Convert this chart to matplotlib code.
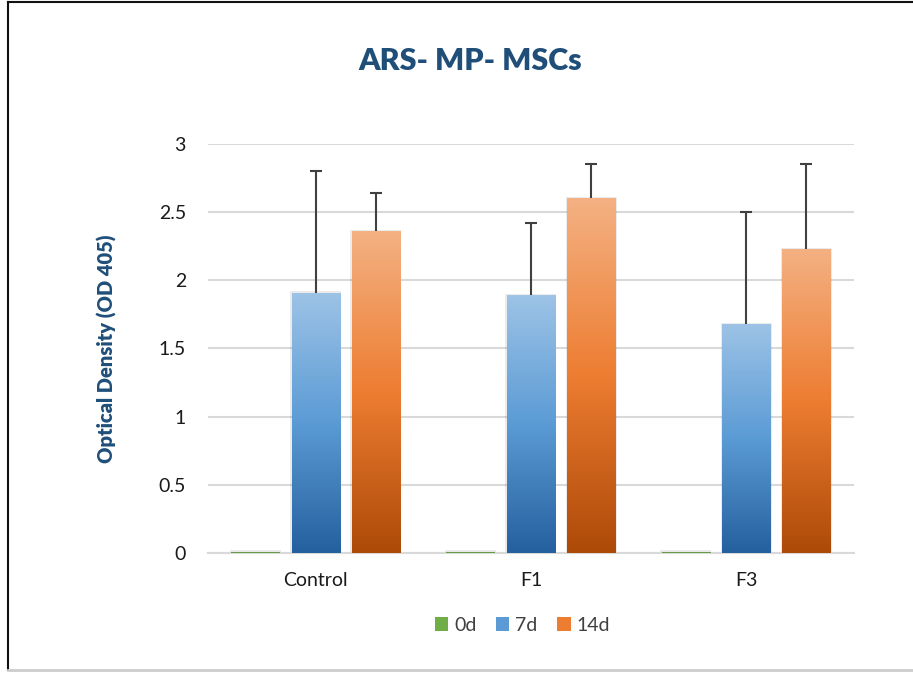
import numpy as np
import matplotlib.pyplot as plt
from matplotlib.colors import LinearSegmentedColormap
from matplotlib.patches import Rectangle, Patch
from matplotlib.lines import Line2D

groups = ["Control", "F1", "F3"]
series = ["0d", "7d", "14d"]
vals_0d = [0.01, 0.01, 0.01]
vals_7d = [1.91, 1.89, 1.68]
vals_14d = [2.36, 2.60, 2.23]
err_7d = [0.89, 0.53, 0.82]
err_14d = [0.28, 0.25, 0.62]

plt.rcParams['font.family'] = ['Lato', 'DejaVu Sans']

fig = plt.figure(figsize=(9.13, 6.74), dpi=100)
ax = fig.add_axes([0.228, 0.1795, 0.707, 0.607])

cmaps = {
    "0d": LinearSegmentedColormap.from_list("g", ["#4f8a2c", "#a9d18e"]),
    "7d": LinearSegmentedColormap.from_list("b", ["#25609e", "#5b9bd5", "#9dc3e6"]),
    "14d": LinearSegmentedColormap.from_list("o", ["#ad4a08", "#ed7d31", "#f4b183"]),
}
solid = {"0d": "#70ad47", "7d": "#5b9bd5", "14d": "#ed7d31"}

x = np.arange(len(groups))
width = 0.225
offsets = [-0.28, 0.0, 0.28]
data = [vals_0d, vals_7d, vals_14d]
errs = [None, err_7d, err_14d]

grad = np.linspace(0, 1, 256).reshape(-1, 1)
for s, off, vals, err in zip(series, offsets, data, errs):
    bars = ax.bar(x + off, vals, width, color="none", edgecolor="none", zorder=3)
    for b in bars:
        bx, by = b.get_x(), b.get_y()
        bw, bh = b.get_width(), b.get_height()
        # soft shadow
        ax.add_patch(Rectangle((bx - 0.006, by), bw + 0.012, bh + 0.01,
                               color="#000000", alpha=0.08, lw=0, zorder=2.5))
        im = ax.imshow(grad, extent=[bx, bx + bw, by, by + bh], origin="lower",
                       cmap=cmaps[s], aspect="auto", zorder=3)
        im.set_clip_path(b)
    if err is not None:
        xs = x + off
        tops = np.array(vals) + np.array(err)
        ax.vlines(xs, vals, tops, color="#404040", linewidth=1.5, zorder=4)
        ax.plot(xs, tops, linestyle="none", marker="_", markersize=9,
                markeredgewidth=1.5, color="#404040", zorder=4)

ax.set_xlim(-0.5, 2.5)
ax.set_ylim(0, 3)
ax.set_yticks([0, 0.5, 1, 1.5, 2, 2.5, 3])
ax.set_yticklabels(["0", "0.5", "1", "1.5", "2", "2.5", "3"])
ax.set_xticks(x)
ax.set_xticklabels(groups)
ax.tick_params(length=0, labelsize=14, colors="#1a1a1a")
ax.tick_params(axis="y", pad=16)
ax.tick_params(axis="x", pad=14)
ax.grid(axis="y", color="#d9d9d9", linewidth=1.5, zorder=0)
ax.set_axisbelow(True)
for sp in ["top", "right", "left"]:
    ax.spines[sp].set_visible(False)
ax.spines["bottom"].set_color("#d9d9d9")
ax.spines["bottom"].set_linewidth(1.5)

ax.set_ylabel("Optical Density (OD 405)", fontsize=14.5, fontweight="heavy",
              color="#1f4e79", labelpad=30)
fig.text(0.515, 0.91, "ARS- MP- MSCs", ha="center", va="center",
         fontsize=22, fontweight="heavy", color="#1f4e79")

handles = [Patch(facecolor=solid[s], label=s) for s in series]
fig.legend(handles=handles, loc="center", bbox_to_anchor=(0.572, 0.072), ncol=3,
           frameon=False, fontsize=14, handlelength=0.7, handleheight=0.7,
           handletextpad=0.3, columnspacing=1.0, labelcolor="#404040")

# outer frame
fig.add_artist(Line2D([0.009, 0.009], [0.006, 0.997], transform=fig.transFigure,
                      color="#111111", linewidth=1.5))
fig.add_artist(Line2D([0.009, 1.0], [0.997, 0.997], transform=fig.transFigure,
                      color="#111111", linewidth=1.5))
fig.add_artist(Line2D([0.009, 1.0], [0.006, 0.006], transform=fig.transFigure,
                      color="#cccccc", linewidth=2))

fig.savefig("out.png", dpi=100)
